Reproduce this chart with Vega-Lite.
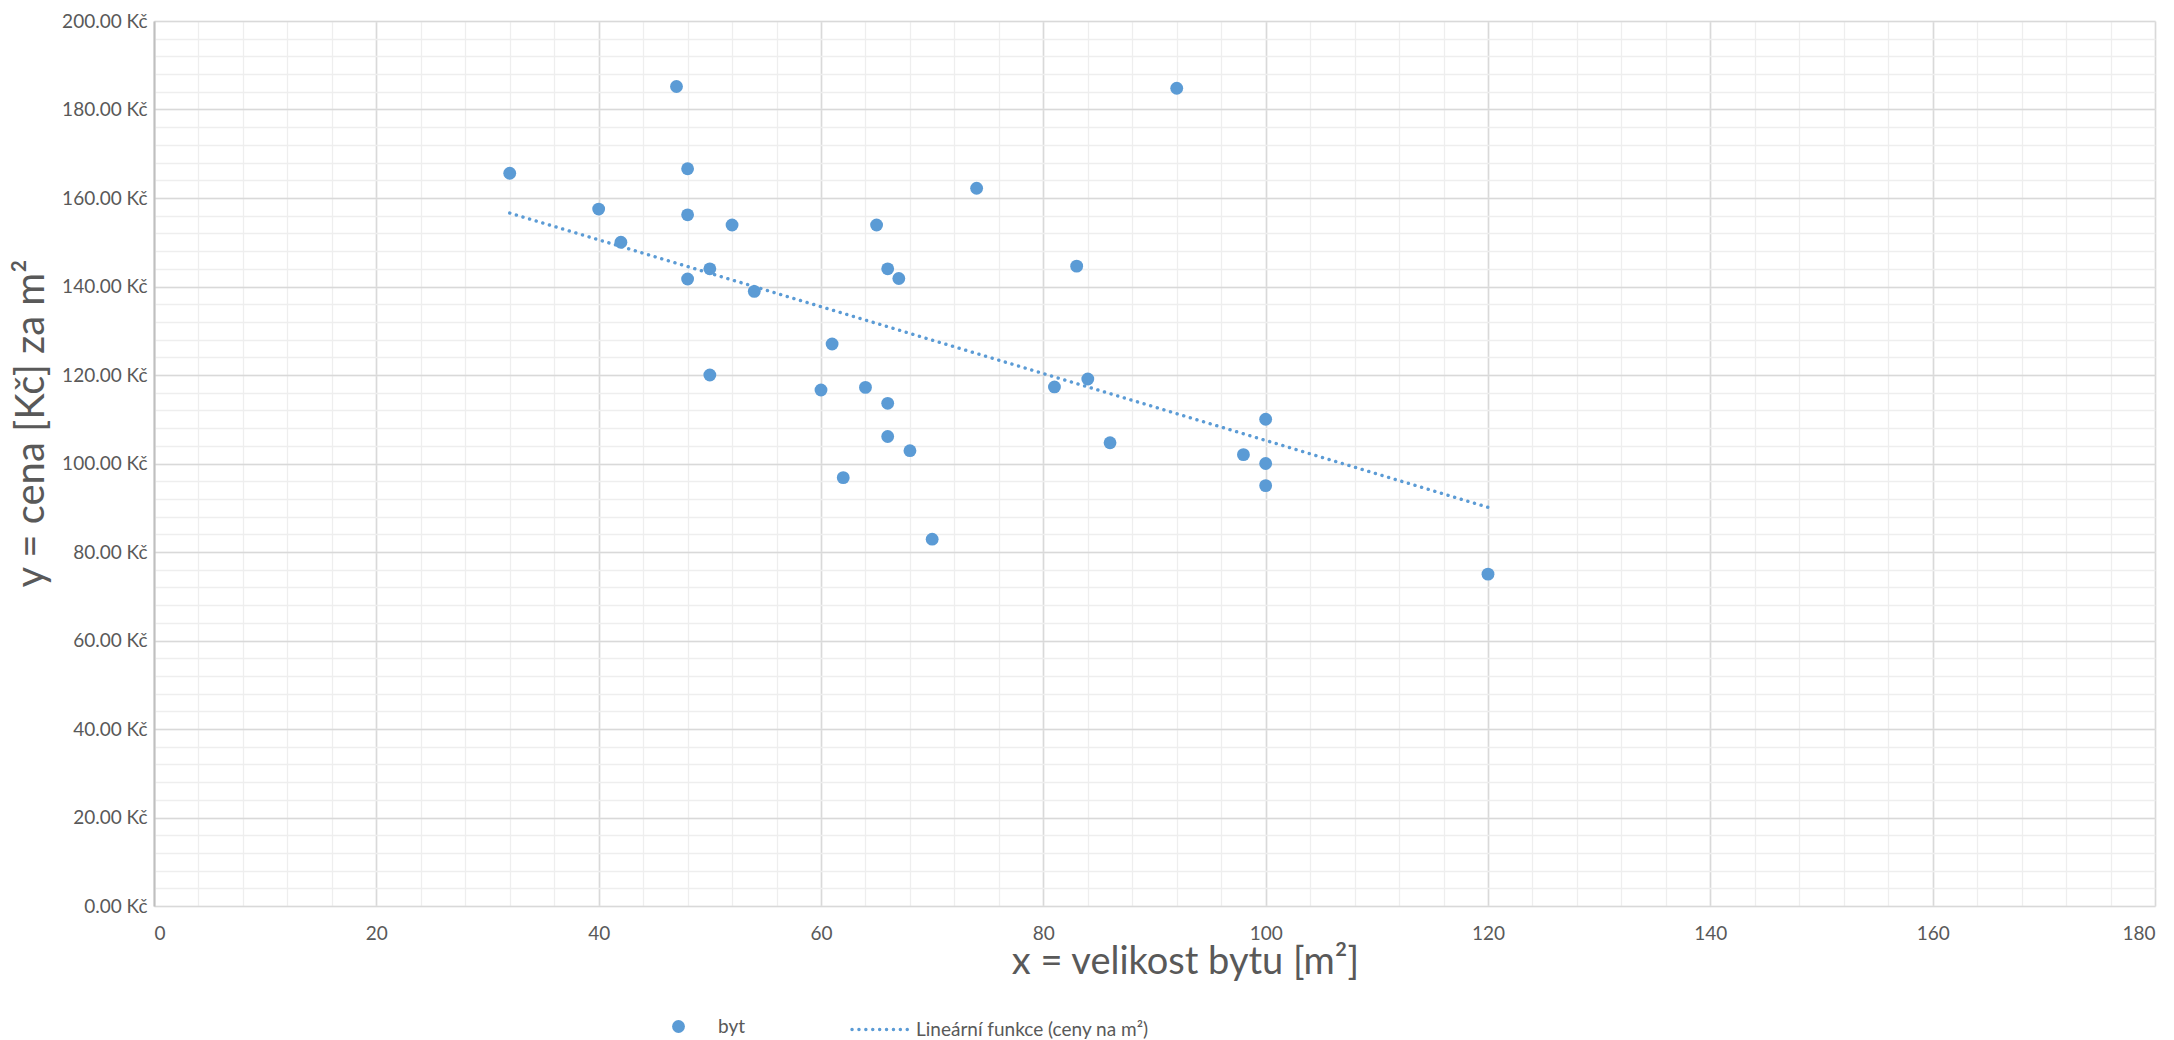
{
  "$schema": "https://vega.github.io/schema/vega-lite/v6.json",
  "width": 2001,
  "height": 885,
  "autosize": {"type": "none"},
  "padding": {"left": 154, "top": 21, "right": 19, "bottom": 134},
  "background": "white",
  "config": {
    "view": {"stroke": null},
    "font": "Lato",
    "axis": {
      "labelFont": "Lato",
      "titleFont": "Lato",
      "labelColor": "#595959",
      "titleColor": "#595959",
      "labelFontSize": 19,
      "titleFontSize": 38,
      "titleFontWeight": "normal",
      "ticks": false
    },
    "legend": {"labelFont": "Lato", "labelFontSize": 19, "labelColor": "#595959", "labelLimit": 0}
  },
  "datasets": {
    "pts": [
      {"x": 32, "y": 165.6, "s": "byt"},
      {"x": 40, "y": 157.5, "s": "byt"},
      {"x": 42, "y": 150.0, "s": "byt"},
      {"x": 47, "y": 185.2, "s": "byt"},
      {"x": 48, "y": 166.6, "s": "byt"},
      {"x": 48, "y": 156.2, "s": "byt"},
      {"x": 48, "y": 141.7, "s": "byt"},
      {"x": 50, "y": 144.0, "s": "byt"},
      {"x": 50, "y": 120.0, "s": "byt"},
      {"x": 52, "y": 153.9, "s": "byt"},
      {"x": 54, "y": 138.9, "s": "byt"},
      {"x": 60, "y": 116.6, "s": "byt"},
      {"x": 61, "y": 127.0, "s": "byt"},
      {"x": 62, "y": 96.8, "s": "byt"},
      {"x": 64, "y": 117.2, "s": "byt"},
      {"x": 65, "y": 153.9, "s": "byt"},
      {"x": 66, "y": 144.0, "s": "byt"},
      {"x": 66, "y": 113.6, "s": "byt"},
      {"x": 66, "y": 106.1, "s": "byt"},
      {"x": 67, "y": 141.8, "s": "byt"},
      {"x": 68, "y": 102.9, "s": "byt"},
      {"x": 70, "y": 82.9, "s": "byt"},
      {"x": 74, "y": 162.2, "s": "byt"},
      {"x": 81, "y": 117.3, "s": "byt"},
      {"x": 83, "y": 144.6, "s": "byt"},
      {"x": 84, "y": 119.1, "s": "byt"},
      {"x": 86, "y": 104.7, "s": "byt"},
      {"x": 92, "y": 184.8, "s": "byt"},
      {"x": 98, "y": 102.0, "s": "byt"},
      {"x": 100, "y": 110.0, "s": "byt"},
      {"x": 100, "y": 100.0, "s": "byt"},
      {"x": 100, "y": 95.0, "s": "byt"},
      {"x": 120, "y": 75.0, "s": "byt"}
    ],
    "trend": [
      {"x": 32, "y": 156.6, "s": "Lineární funkce (ceny na  m²)"},
      {"x": 120, "y": 90.1, "s": "Lineární funkce (ceny na  m²)"}
    ]
  },
  "layer": [
    {
      "data": {"name": "pts"},
      "mark": {"type": "point", "opacity": 0},
      "encoding": {
        "x": {
          "field": "x", "type": "quantitative",
          "scale": {"domain": [0, 180], "nice": false, "zero": false},
          "axis": {
            "orient": "bottom",
            "values": [0,4,8,12,16,20,24,28,32,36,40,44,48,52,56,60,64,68,72,76,80,84,88,92,96,100,104,108,112,116,120,124,128,132,136,140,144,148,152,156,160,164,168,172,176,180],
            "grid": true, "gridColor": "#eeeeee", "gridWidth": 1.3,
            "labels": false, "ticks": false, "domain": false, "title": null
          }
        },
        "y": {
          "field": "y", "type": "quantitative",
          "scale": {"domain": [0, 200], "nice": false, "zero": false},
          "axis": {
            "orient": "left",
            "values": [0,4,8,12,16,20,24,28,32,36,40,44,48,52,56,60,64,68,72,76,80,84,88,92,96,100,104,108,112,116,120,124,128,132,136,140,144,148,152,156,160,164,168,172,176,180,184,188,192,196,200],
            "grid": true, "gridColor": "#eeeeee", "gridWidth": 1.3,
            "labels": false, "ticks": false, "domain": false, "title": null
          }
        }
      }
    },
    {
      "data": {"name": "pts"},
      "mark": {"type": "circle", "size": 165, "opacity": 1},
      "encoding": {
        "x": {
          "field": "x", "type": "quantitative",
          "axis": {
            "orient": "bottom",
            "values": [0,20,40,60,80,100,120,140,160,180],
            "grid": true, "gridColor": "#d9d9d9", "gridWidth": 1.6,
            "domain": false, "labelPadding": 18,
            "title": "x = velikost bytu [m²]",
            "titlePadding": 0, "titleX": 1031
          }
        },
        "y": {
          "field": "y", "type": "quantitative",
          "axis": {
            "orient": "left",
            "values": [0,20,40,60,80,100,120,140,160,180,200],
            "grid": true, "gridColor": "#d9d9d9", "gridWidth": 1.6,
            "domain": true, "domainColor": "#bfbfbf", "domainWidth": 2,
            "labelPadding": 7,
            "labelExpr": "format(datum.value, '.2f') + ' Kč'",
            "title": "y = cena [Kč] za m²",
            "titleFontSize": 40,
            "titlePadding": 10, "titleY": 402
          }
        },
        "color": {
          "field": "s", "type": "nominal",
          "scale": {"range": ["#5B9BD5"]},
          "legend": {
            "title": null, "orient": "none", "legendX": 515, "legendY": 996,
            "direction": "horizontal", "symbolType": "circle", "symbolSize": 165,
            "labelOffset": 30, "symbolOpacity": 1
          }
        }
      }
    },
    {
      "data": {"name": "trend"},
      "mark": {"type": "line", "color": "#5B9BD5", "strokeWidth": 3.4, "strokeCap": "round"},
      "encoding": {
        "x": {"field": "x", "type": "quantitative", "axis": null},
        "y": {"field": "y", "type": "quantitative", "axis": null},
        "strokeDash": {
          "field": "s", "type": "nominal",
          "scale": {"range": [[0.1, 6.8]]},
          "legend": {
            "title": null, "orient": "none", "legendX": 696, "legendY": 978,
            "direction": "horizontal", "symbolType": "stroke", "symbolSize": 3249,
            "symbolStrokeWidth": 3.4, "symbolStrokeColor": "#5B9BD5", "labelOffset": 5,
            "encode": {"symbols": {"update": {"strokeCap": {"value": "round"}}}}
          }
        }
      }
    }
  ],
  "resolve": {"axis": {"x": "independent", "y": "independent"}}
}
